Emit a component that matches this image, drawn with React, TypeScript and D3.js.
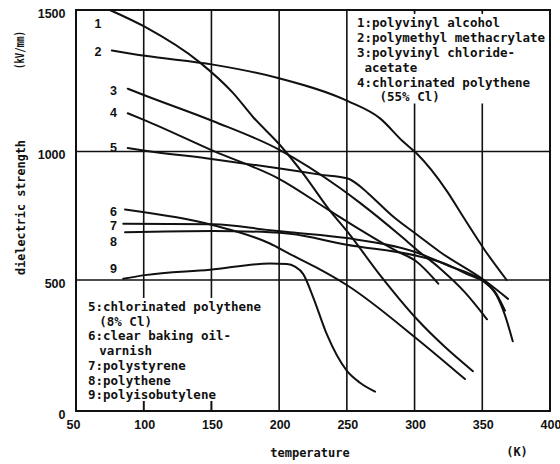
import React from 'react';
import * as d3 from 'd3';

type Pt = [number, number];

// temperature (K), dielectric strength (kV/mm)
const polyvinylAlcohol: Pt[] = [
  [75, 1500], [101, 1440], [141.6, 1314], [165.9, 1207], [180.7, 1122], [200.6, 1023],
  [217.6, 915], [237.6, 769], [250.1, 690], [274.5, 519], [301.8, 350], [322.5, 244], [343.1, 152],
];
const polymethylMethacrylate: Pt[] = [
  [76.4, 1357], [101, 1338], [151.2, 1307], [200.6, 1258], [250.8, 1178], [274.5, 1117],
  [291.5, 1035], [301.6, 992], [324, 845], [336, 745], [352, 615], [368, 500],
];
const pvcAcetate: Pt[] = [
  [88.2, 1222], [101, 1198], [151.4, 1107], [200.6, 1005], [244.9, 858], [259.7, 800],
  [289.2, 674], [301.6, 618], [318.8, 545], [337.2, 453], [353.5, 350],
];
const chlorPolythene55: Pt[] = [
  [88.2, 1135], [101, 1110], [151.4, 1002], [200.6, 892], [237.6, 769], [259.7, 696],
  [285.5, 616], [301.6, 571], [317.5, 486],
];
const chlorPolythene8: Pt[] = [
  [88.2, 1012], [101, 1003], [151.4, 970], [200.6, 934], [230.2, 910], [250.6, 895],
  [259.7, 865], [265.6, 838], [285.5, 741], [301.6, 677], [318.8, 609], [352, 497], [369, 428],
];
const bakingOilVarnish: Pt[] = [
  [86.2, 774], [151.4, 713], [193.2, 642], [208, 601], [227.7, 548], [249.9, 481],
  [301.6, 276], [337.2, 122],
];
const polystyrene: Pt[] = [
  [84.9, 719], [151.4, 717], [193.2, 694], [208, 686], [249.9, 663], [301.6, 607],
  [323.9, 558], [351.3, 493], [359.4, 455], [366.8, 383],
];
const polythene: Pt[] = [
  [86.2, 686], [151.4, 691], [193.2, 686], [208, 680], [249.9, 637], [301.6, 594],
  [321, 566], [340.9, 518], [352, 492], [360.7, 440], [366.8, 365], [372.5, 266],
];
const polyisobutylene: Pt[] = [
  [84.9, 505], [101, 519], [149, 540], [193.2, 564], [205.6, 562], [211.7, 552],
  [217.8, 523], [225.2, 433], [235.1, 294], [249.9, 154], [259.7, 108], [270.8, 74],
];

const allSeries = [
  polyvinylAlcohol, polymethylMethacrylate, pvcAcetate, chlorPolythene55, chlorPolythene8,
  bakingOilVarnish, polystyrene, polythene, polyisobutylene,
];

// curve numbers placed in data space
const curveLabels: [string, number, number][] = [
  ['1', 66.2, 1451], ['2', 66.2, 1354], ['3', 77.7, 1216], ['4', 77.7, 1138], ['5', 77.7, 1014],
  ['6', 77.7, 767], ['7', 77.7, 711], ['8', 77.7, 648], ['9', 77.7, 544],
];

const xTicks = [50, 100, 150, 200, 250, 300, 350, 400];
const yTicks = [0, 500, 1000, 1500];
const gridX = [100, 150, 200, 250, 300, 350];
const gridY = [500, 1000];

const legendTop: [string, number][] = [
  ['1:polyvinyl alcohol', 0], ['2:polymethyl methacrylate', 0], ['3:polyvinyl chloride-', 0],
  ['acetate', 1], ['4:chlorinated polythene', 0], ['(55% Cl)', 3],
];
const legendBottom: [string, number][] = [
  ['5:chlorinated polythene', 0], ['(8% Cl)', 1.5], ['6:clear baking oil-', 0], ['varnish', 1.5],
  ['7:polystyrene', 0], ['8:polythene', 0], ['9:polyisobutylene', 0],
];

const mono = "'DejaVu Sans Mono', monospace";
const sans = "'Liberation Sans', Arial, sans-serif";
const ink = '#111';

export default function App() {
  const x = d3.scaleLinear().domain([50, 400]).range([76, 550]);
  const y = d3.scaleLinear().domain([0, 500, 1000, 1500]).range([411, 280, 151.5, 10]);
  const line = d3
    .line<Pt>()
    .x((d) => x(d[0]))
    .y((d) => y(d[1]))
    .curve(d3.curveMonotoneX);

  const charW = 7.52;

  return (
    <svg width={560} height={464} style={{ position: 'absolute', left: 0, top: 0 }}>
      <rect width={560} height={464} fill="#fff" />

      {/* grid */}
      {gridX.map((t) => (
        <line key={'gx' + t} x1={x(t)} x2={x(t)} y1={y(1500)} y2={y(0)} stroke={ink} strokeWidth={1.6} />
      ))}
      {gridY.map((t) => (
        <line key={'gy' + t} x1={x(50)} x2={x(400)} y1={y(t)} y2={y(t)} stroke={ink} strokeWidth={1.6} />
      ))}

      {/* legend backgrounds hide the grid */}
      <rect x={x(250) + 4} y={y(1500) + 1.5} width={x(400) - x(250) - 5} height={102 - y(1500)} fill="#fff" />
      <rect x={x(50) + 2} y={298} width={x(200) - x(50) - 7} height={y(0) - 10 - 298} fill="#fff" />
      {[300, 350].map((t) => (
        <line key={'tt' + t} x1={x(t)} x2={x(t)} y1={y(1500)} y2={y(1500) + 4} stroke={ink} strokeWidth={1.6} />
      ))}
      {[100, 150].map((t) => (
        <line key={'bt' + t} x1={x(t)} x2={x(t)} y1={y(0) - 10} y2={y(0)} stroke={ink} strokeWidth={1.6} />
      ))}

      {/* frame */}
      <rect x={x(50)} y={y(1500)} width={x(400) - x(50)} height={y(0) - y(1500)} fill="none" stroke={ink} strokeWidth={2} />

      {/* curves */}
      {allSeries.map((s, i) => (
        <path key={'s' + i} d={line(s) || ''} fill="none" stroke={ink} strokeWidth={2} strokeLinecap="round" />
      ))}

      {/* curve numbers */}
      {curveLabels.map(([t, cx, cy]) => (
        <text key={'cl' + t} x={x(cx)} y={y(cy)} dy="0.36em" textAnchor="middle" fontFamily={sans} fontWeight="bold" fontSize={12.5} fill={ink}>
          {t}
        </text>
      ))}

      {/* tick labels */}
      {yTicks.map((t) => (
        <text key={'yl' + t} x={65.5} y={y(t) + 7.5} textAnchor="end" fontFamily={sans} fontWeight="bold" fontSize={12.5} fill={ink}>
          {t}
        </text>
      ))}
      {xTicks.map((t) => (
        <text key={'xl' + t} x={x(t) + (t === 50 ? -2.5 : 1)} y={429} textAnchor="middle" fontFamily={sans} fontWeight="bold" fontSize={12.5} fill={ink}>
          {t}
        </text>
      ))}

      {/* legends */}
      {legendTop.map(([t, ind], i) => (
        <text key={'lt' + i} x={357 + ind * charW} y={27.3 + i * 14.8} fontFamily={mono} fontWeight="bold" fontSize={12.5} fill={ink}>
          {t}
        </text>
      ))}
      {legendBottom.map(([t, ind], i) => (
        <text key={'lb' + i} x={88 + ind * charW} y={311 + i * 14.7} fontFamily={mono} fontWeight="bold" fontSize={12.5} fill={ink}>
          {t}
        </text>
      ))}

      {/* axis titles */}
      <text transform="translate(24.5,207.5) rotate(-90)" textAnchor="middle" fontFamily={mono} fontWeight="bold" fontSize={11.8} fill={ink}>
        dielectric strength
      </text>
      <text transform="translate(24,50) rotate(-90)" textAnchor="middle" fontFamily={mono} fontWeight="bold" fontSize={12} textLength={38} lengthAdjust="spacingAndGlyphs" fill={ink}>
        (kV/mm)
      </text>
      <text x={310} y={457} textAnchor="middle" fontFamily={mono} fontWeight="bold" fontSize={12} fill={ink}>
        temperature
      </text>
      <text x={517} y={456} textAnchor="middle" fontFamily={mono} fontWeight="bold" fontSize={12} fill={ink}>
        (K)
      </text>
    </svg>
  );
}
